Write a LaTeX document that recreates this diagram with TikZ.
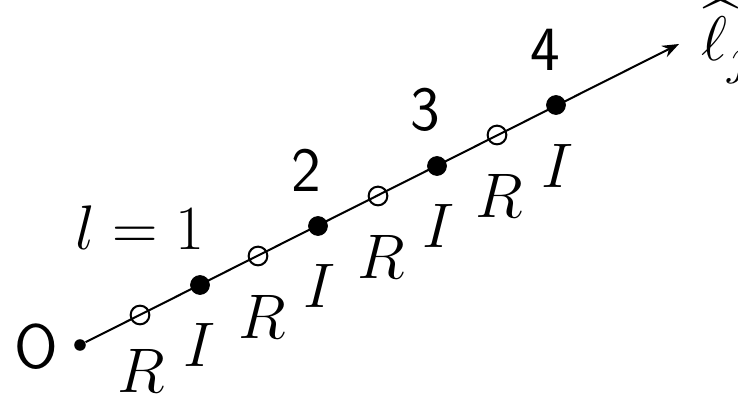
\documentclass[tikz,border=0pt]{standalone}
\usepackage{amsmath}
\usepackage{tikz}
\usetikzlibrary{arrows.meta, positioning}
\tikzset{
  fulldot/.style={circle, fill=black, draw=black, minimum size=0.26cm, inner sep=0pt},
  opendot/.style={circle, draw=black, line width=0.8pt, minimum size=0.26cm, inner sep=0pt},
  origdot/.style={circle, fill=black, minimum size=0.16cm, inner sep=0pt},
  axis/.style={-Stealth, line width=0.8pt},
  lbl/.style={font=\Huge, inner sep=0pt},
  numlbl/.style={font=\Huge\sffamily, inner sep=0pt}
}
\begin{document}
\begin{tikzpicture}[x=0.013889cm, y=-0.013889cm]
  \useasboundingbox (0,0) rectangle (738,395);

  \node[origdot] (o) at (80,345) {};
  \coordinate (tip) at (679,44);
  \draw[axis] (o) -- (tip);

  \node[opendot] (r1) at (140,315) {};
  \node[fulldot] (i1) at (200,285) {};
  \node[opendot] (r2) at (258,256) {};
  \node[fulldot] (i2) at (318,226) {};
  \node[opendot] (r3) at (378,196) {};
  \node[fulldot] (i3) at (437,166) {};
  \node[opendot] (r4) at (497,135) {};
  \node[fulldot] (i4) at (556,105) {};

  % labels
  \node[numlbl] (olbl) at (36,347) {O};
  \node[lbl] (rl1) at (141,371) {$R$};
  \node[lbl] (il1) at (200,345) {$I$};
  \node[lbl] (rl2) at (262,317) {$R$};
  \node[lbl] (il2) at (320,286) {$I$};
  \node[lbl] (rl3) at (381,257) {$R$};
  \node[lbl] (il3) at (439,226) {$I$};
  \node[lbl] (rl4) at (499,196) {$R$};
  \node[lbl] (il4) at (558,166) {$I$};

  \node[lbl] (n1) at (140,228) {$l=1$};
  \node[numlbl] (n2) at (306,170) {2};
  \node[numlbl] (n3) at (425,110) {3};
  \node[numlbl] (n4) at (545,50) {4};

  \node[lbl, anchor=base west] (lj) at (701,61) {$\widehat{\ell}_j$};
\end{tikzpicture}
\end{document}
